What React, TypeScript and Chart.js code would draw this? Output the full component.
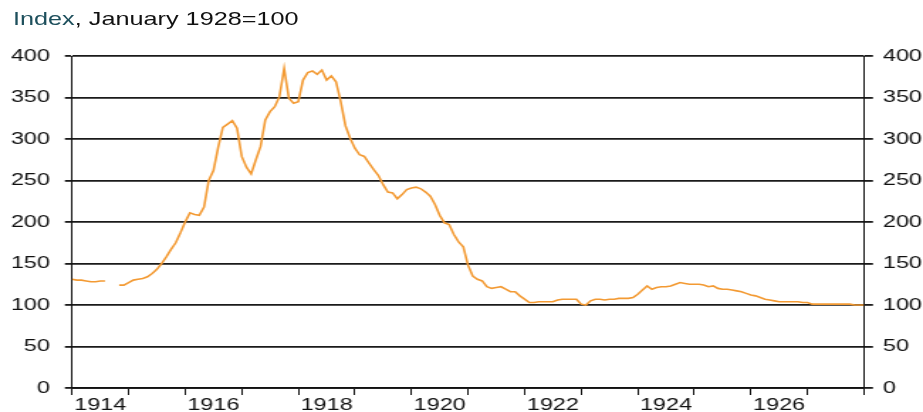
import React, { useEffect, useRef } from "react";
import { Chart, registerables } from "chart.js";

Chart.register(...registerables);

// ---- data (monthly index, January 1928 = 100) ----
const START_YEAR = 1914;
const END_YEAR = 1928;
const LABEL_YEARS = [1914, 1916, 1918, 1920, 1922, 1924, 1926];
const Y_MIN = 0;
const Y_MAX = 400;
const Y_STEP = 50;

const v1914 = [131, 130, 130, 129, 128, 128, 129, 129, null, null, 124, 124];
const v1915 = [127, 130, 131, 132, 134, 138, 143, 150, 158, 167, 175, 187];
const v1916 = [200, 211, 209, 208, 218, 250, 262, 290, 314, 318, 322, 313];
const v1917 = [279, 266, 258, 275, 291, 323, 333, 339, 351, 385, 349, 343];
const v1918 = [345, 371, 380, 382, 378, 383, 371, 376, 369, 345, 316, 301];
const v1919 = [289, 281, 279, 271, 263, 256, 245, 236, 235, 228, 233, 239];
const v1920 = [241, 242, 240, 236, 231, 221, 208, 199, 197, 185, 176, 170];
const v1921 = [148, 135, 131, 129, 122, 120, 121, 122, 119, 116, 116, 111];
const v1922 = [107, 103, 103, 104, 104, 104, 104, 106, 107, 107, 107, 107];
const v1923 = [101, 100, 105, 107, 107, 106, 107, 107, 108, 108, 108, 109];
const v1924 = [113, 118, 123, 119, 121, 122, 122, 123, 125, 127, 126, 125];
const v1925 = [125, 125, 124, 122, 123, 120, 119, 119, 118, 117, 116, 114];
const v1926 = [112, 111, 109, 107, 106, 105, 104, 104, 104, 104, 104, 103];
const v1927 = [103, 101, 101, 101, 101, 101, 101, 101, 101, 101, 100, 100];
const v1928 = [100];

const TITLE_LEAD = "Index";
const TITLE_REST = ", January 1928=100";

const ORANGE = "#F39A33";
const INK = "#111111";
const GRID = "#1a1a1a";
const TEAL = "#1d4f5c";

// horizontal stretch of the original picture
const SX = 1.42;
const W = 923;
const H = 412;
const CW = W / SX;

export default function App() {
  const ref = useRef<HTMLCanvasElement | null>(null);

  useEffect(() => {
    if (!ref.current) return;
    const values = [
      ...v1914, ...v1915, ...v1916, ...v1917, ...v1918, ...v1919, ...v1920,
      ...v1921, ...v1922, ...v1923, ...v1924, ...v1925, ...v1926, ...v1927, ...v1928,
    ];
    const points = values.map((v, i) => ({ x: START_YEAR + i / 12, y: v }));
    const font = { family: "'Liberation Sans', Arial, sans-serif", size: 16.5 };

    const chart = new Chart(ref.current, {
      type: "line",
      data: {
        datasets: [
          {
            data: points as any,
            borderColor: ORANGE,
            borderWidth: 1.6,
            pointRadius: 0,
            tension: 0,
            spanGaps: false,
            yAxisID: "y",
          },
        ],
      },
      options: {
        responsive: false,
        maintainAspectRatio: false,
        animation: false,
        layout: { padding: { top: 56, left: 0, right: 0, bottom: 0 } },
        plugins: { legend: { display: false }, tooltip: { enabled: false } },
        scales: {
          x: {
            type: "linear",
            min: START_YEAR,
            max: END_YEAR,
            afterFit: (s: any) => {
              s.height = 24;
            },
            ticks: {
              stepSize: 1,
              autoSkip: false,
              maxRotation: 0,
              labelOffset: 56.57 / 2 / SX,
              padding: 1,
              color: INK,
              font,
              callback: (v: any) => (LABEL_YEARS.includes(Number(v)) ? String(v) : ""),
            },
            grid: { drawOnChartArea: false, drawTicks: true, tickLength: 7, color: INK, lineWidth: 1 },
            border: { display: true, color: INK, width: 1.8 },
          },
          y: {
            type: "linear",
            position: "left",
            min: Y_MIN,
            max: Y_MAX,
            afterFit: (s: any) => {
              s.width = 72 / SX;
            },
            ticks: { stepSize: Y_STEP, padding: 10.5, color: INK, font },
            grid: { color: GRID, lineWidth: 1.8, tickLength: 5 },
            border: { display: true, color: INK, width: 1 },
          },
          y1: {
            type: "linear",
            position: "right",
            min: Y_MIN,
            max: Y_MAX,
            afterFit: (s: any) => {
              s.width = CW - 864 / SX;
            },
            ticks: { stepSize: Y_STEP, padding: 7, color: INK, font },
            grid: { drawOnChartArea: false, color: GRID, lineWidth: 1.8, tickLength: 6.3 },
            border: { display: true, color: INK, width: 1 },
          },
        },
      },
    } as any);
    return () => chart.destroy();
  }, []);

  return (
    <div
      style={{
        position: "fixed",
        left: 0,
        top: 0,
        width: CW,
        height: H,
        transform: `scaleX(${SX})`,
        transformOrigin: "0 0",
        background: "#fff",
      }}
    >
      <div
        style={{
          position: "absolute",
          left: 13 / SX,
          top: 11,
          fontFamily: "'Liberation Sans', Arial, sans-serif",
          fontSize: 17.8,
          lineHeight: "17.8px",
          whiteSpace: "nowrap",
          color: INK,
        }}
      >
        <span style={{ color: TEAL }}>{TITLE_LEAD}</span>
        {TITLE_REST}
      </div>
      <canvas ref={ref} width={Math.round(CW)} height={H} style={{ display: "block" }} />
    </div>
  );
}
